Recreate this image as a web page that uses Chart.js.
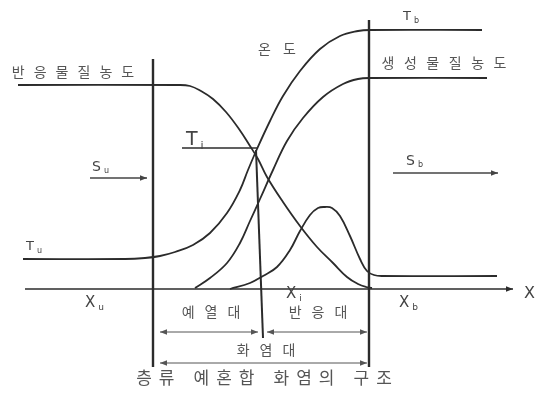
<!DOCTYPE html>
<html><head><meta charset="utf-8">
<script src="https://cdn.jsdelivr.net/npm/chart.js@4.4.1/dist/chart.umd.min.js"></script>
<style>html,body{margin:0;padding:0;background:#fff;}#wrap{width:537px;height:396px;position:relative;}</style>
</head><body><div id="wrap"><canvas id="c"></canvas></div>
<script>
// Position along the flame (x) and level above the X axis (h)
const reactantX = [18, 178, 190, 201, 213, 226, 239, 250, 258, 267, 283, 300, 317, 333, 347, 358, 366, 372];
const reactantH = [204, 204, 203, 198, 190, 177, 160, 143, 130, 112, 87, 63, 42, 26, 12, 5, 2, 1];

const temperatureX = [23, 125, 145, 160, 175, 193, 210, 227, 240, 248, 257, 270, 283, 300, 320, 340, 358, 370, 482];
const temperatureH = [30, 30, 31, 33, 37, 44, 56, 76, 99, 119, 140, 168, 193, 218, 240, 253, 258, 259, 259];

const productX = [195, 210, 227, 240, 250, 260, 273, 287, 303, 323, 343, 358, 370, 487];
const productH = [1, 11, 26, 46, 68, 90, 119, 148, 171, 192, 205, 210, 211, 211];

const reactionRateX = [230, 250, 263, 277, 290, 300, 310, 318, 325, 332, 340, 350, 360, 367, 374, 382, 497];
const reactionRateH = [0, 6, 13, 22, 39, 58, 74, 81, 82, 81, 73, 53, 30, 18, 14, 13, 13];

// Zone boundaries X_u, X_i, X_b and guide levels
const xuLineX = [153, 153];   const xuLineH = [230, -78];
const xiLineX = [256, 263];   const xiLineH = [139, -49];
const xbLineX = [369, 369];   const xbLineH = [269, -78];
const tiLineX = [182, 258];   const tiLineH = [141, 141];
const axisX = [25, 513];      const axisH = [0, 0];
const suArrowX = [90, 147];   const suArrowH = [111, 111];
const sbArrowX = [393, 498];  const sbArrowH = [116, 116];
const preheatX = [160, 258];  const preheatH = [-43, -43];
const reactionZoneX = [267, 367]; const reactionZoneH = [-43, -43];
const flameZoneX = [160, 367];    const flameZoneH = [-74, -74];

const pts = (xs, hs) => xs.map((x, i) => ({x: x, y: hs[i]}));

const INK = '#2b2b2b';
const TXT = '#555';

function curve(xs, hs, w) {
  return {data: pts(xs, hs), showLine: true, pointRadius: 0, borderColor: INK,
          borderWidth: w || 1.8, tension: 0.4, fill: false};
}
function straight(xs, hs, w, color, arrow) {
  return {data: pts(xs, hs), showLine: true, pointRadius: 0, borderColor: color || INK,
          borderWidth: w || 1.5, tension: 0, fill: false, arrow: arrow || null};
}

const hangulLabels = [
  {text: '반응물질농도', x: 73, h: 217, size: 14, gap: 9},
  {text: '온도', x: 277, h: 240, size: 14, gap: 12},
  {text: '생성물질농도', x: 444, h: 226, size: 14, gap: 9.5},
  {text: '예열대', x: 211, h: -23, size: 14, gap: 10},
  {text: '반응대', x: 318, h: -23, size: 14, gap: 10},
  {text: '화염대', x: 266, h: -61, size: 14, gap: 10},
  {text: '층류 예혼합 화염의 구조', x: 264, h: -89, size: 17, gap: 7}
];
const symbolLabels = [
  {text: 'T', sub: 'b', x: 403, h: 272, size: 13},
  {text: 'T', sub: 'i', x: 186, h: 149, size: 19},
  {text: 'S', sub: 'u', x: 92, h: 122, size: 14},
  {text: 'S', sub: 'b', x: 406, h: 128, size: 14},
  {text: 'T', sub: 'u', x: 26, h: 42, size: 13},
  {text: 'X', sub: 'u', x: 85, h: -14, size: 15},
  {text: 'X', sub: 'i', x: 286, h: -5, size: 15},
  {text: 'X', sub: 'b', x: 399, h: -14, size: 15},
  {text: 'X', sub: '', x: 524, h: -5, size: 16}
];

const decorPlugin = {
  id: 'decor',
  afterDatasetsDraw(chart) {
    const ctx = chart.ctx;
    const sx = chart.scales.x, sy = chart.scales.y;
    ctx.save();
    chart.data.datasets.forEach((ds, i) => {
      if (!ds.arrow) return;
      const el = chart.getDatasetMeta(i).data;
      const a = el[0], b = el[el.length - 1];
      const head = (p, q) => {
        const ang = Math.atan2(p.y - q.y, p.x - q.x);
        const L = 7, W = 2.8;
        ctx.beginPath();
        ctx.moveTo(p.x, p.y);
        ctx.lineTo(p.x - L * Math.cos(ang) + W * Math.sin(ang), p.y - L * Math.sin(ang) - W * Math.cos(ang));
        ctx.lineTo(p.x - L * Math.cos(ang) - W * Math.sin(ang), p.y - L * Math.sin(ang) + W * Math.cos(ang));
        ctx.closePath();
        ctx.fillStyle = ds.borderColor;
        ctx.fill();
      };
      head(b, a);
      if (ds.arrow === 'both') head(a, b);
    });
    ctx.fillStyle = TXT;
    ctx.textBaseline = 'middle';
    ctx.textAlign = 'left';
    hangulLabels.forEach(l => {
      ctx.font = '400 ' + l.size + 'px "Noto Sans CJK KR", "Noto Sans", sans-serif';
      const chars = [...l.text];
      const ws = chars.map(c => c === ' ' ? l.size * 0.3 : ctx.measureText(c).width);
      const total = ws.reduce((s, w) => s + w, 0) + l.gap * (chars.length - 1);
      let x = sx.getPixelForValue(l.x) - total / 2;
      const y = sy.getPixelForValue(l.h);
      chars.forEach((c, k) => { if (c !== ' ') ctx.fillText(c, x, y); x += ws[k] + l.gap; });
    });
    ctx.fillStyle = '#444';
    symbolLabels.forEach(l => {
      const x = sx.getPixelForValue(l.x), y = sy.getPixelForValue(l.h);
      ctx.font = l.size + 'px "DejaVu Sans", sans-serif';
      ctx.fillText(l.text, x, y);
      const w = ctx.measureText(l.text).width;
      if (l.sub) {
        ctx.font = Math.round(l.size * 0.6) + 'px "DejaVu Sans", sans-serif';
        ctx.fillText(l.sub, x + w + 3, y + l.size * 0.3);
      }
    });
    ctx.restore();
  }
};

new Chart(document.getElementById('c'), {
  type: 'scatter',
  data: {datasets: [
    curve(reactantX, reactantH, 1.8),
    curve(temperatureX, temperatureH, 1.8),
    curve(productX, productH, 1.8),
    curve(reactionRateX, reactionRateH, 1.8),
    straight(xuLineX, xuLineH, 2.4),
    straight(xiLineX, xiLineH, 2),
    straight(xbLineX, xbLineH, 2.4),
    straight(tiLineX, tiLineH, 1.5),
    straight(axisX, axisH, 1.5, INK, 'end'),
    straight(suArrowX, suArrowH, 1.3, '#444', 'end'),
    straight(sbArrowX, sbArrowH, 1.5, '#444', 'end'),
    straight(preheatX, preheatH, 1, '#555', 'both'),
    straight(reactionZoneX, reactionZoneH, 1, '#555', 'both'),
    straight(flameZoneX, flameZoneH, 1, '#555', 'both')
  ]},
  options: {
    responsive: true, maintainAspectRatio: false, devicePixelRatio: 1, animation: false,
    layout: {padding: 0},
    plugins: {legend: {display: false}, tooltip: {enabled: false}},
    scales: {
      x: {type: 'linear', min: 0, max: 537, display: false},
      y: {type: 'linear', min: -107, max: 289, display: false}
    }
  },
  plugins: [decorPlugin]
});
</script>
</body></html>
